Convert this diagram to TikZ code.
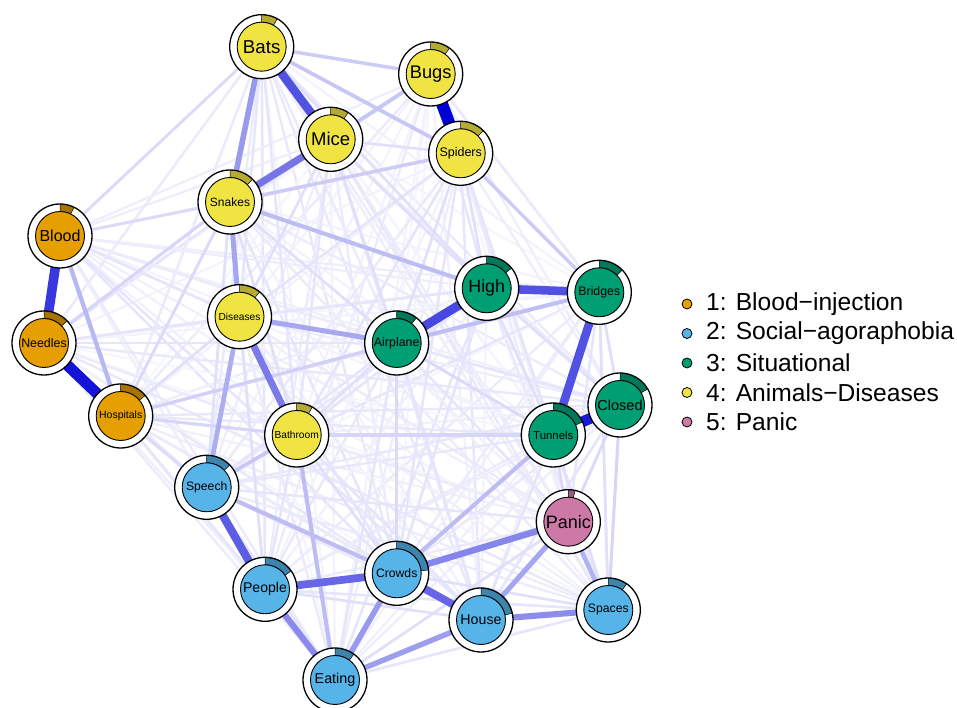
\documentclass[tikz,border=0pt]{standalone}
\usepackage{fontspec}
\setmainfont{Liberation Sans}
\usetikzlibrary{backgrounds}
\definecolor{eb}{HTML}{0000D5}
\definecolor{cOr}{HTML}{E69F00}\definecolor{pOr}{HTML}{A87400}
\definecolor{cBl}{HTML}{56B4E9}\definecolor{pBl}{HTML}{3D85AD}
\definecolor{cGr}{HTML}{009E73}\definecolor{pGr}{HTML}{00785A}
\definecolor{cYe}{HTML}{F0E442}\definecolor{pYe}{HTML}{B5AB33}
\definecolor{cPk}{HTML}{CC79A7}\definecolor{pPk}{HTML}{9B5B80}
\tikzset{
  outerc/.style={circle,minimum size=64pt,inner sep=0pt,draw=black,line width=1.3pt,fill=white},
  innerc/.style={circle,minimum size=49pt,inner sep=0pt,draw=black,line width=0.9pt},
  ed/.style={line width={1.4+0.105*#1}, draw=eb!#1!white},
  legdot/.style={circle,minimum size=10pt,inner sep=0pt,draw=black,line width=0.8pt},
  legtxt/.style={anchor=west,inner sep=0pt,font=\fontsize{24.6}{26}\selectfont}
}
\newcommand\qn[7]{%
  \node[outerc] (#1) at (#2) {};
  \begin{scope}[shift={(#2)}]
    \fill[#4,draw=black,line width=0.5pt] (90:24.5) -- (90:31.6) arc[start angle=90,end angle={90-#5},radius=31.6] -- ({90-#5}:24.5) arc[start angle={90-#5},end angle=90,radius=24.5] -- cycle;
  \end{scope}
  \node[innerc,fill=#3,font={\fontsize{#7}{#7}\selectfont}] (#1t) at (#2) {#6};
}
\begin{document}
\begin{tikzpicture}[x=1pt,y=1pt]
\useasboundingbox (0,0) rectangle (957,708);
% nodes
\qn{Bt}{261.7,661.3}{cYe}{pYe}{29}{Bats}{18.7}
\qn{Bg}{430.7,634}{cYe}{pYe}{36}{Bugs}{18.3}
\qn{Mi}{330.7,568.7}{cYe}{pYe}{33}{Mice}{18.5}
\qn{Sp}{460.7,554.7}{cYe}{pYe}{45}{Spiders}{12.5}
\qn{Sn}{230,506}{cYe}{pYe}{45}{Snakes}{12}
\qn{Bl}{60,472}{cOr}{pOr}{26}{Blood}{16}
\qn{Hi}{486.7,419.7}{cGr}{pGr}{51}{High}{17.8}
\qn{Br}{599.3,415.7}{cGr}{pGr}{46}{Bridges}{12.3}
\qn{Di}{239.5,391.3}{cYe}{pYe}{39}{Diseases}{10.2}
\qn{Ai}{396.7,365}{cGr}{pGr}{38}{Airplane}{12.4}
\qn{Ne}{44,365}{cOr}{pOr}{46}{Needles}{12.4}
\qn{Ho}{120.7,292}{cOr}{pOr}{50}{Hospitals}{10.5}
\qn{Ba}{296.7,273}{cYe}{pYe}{29}{Bathroom}{10.2}
\qn{Tu}{553.3,273}{cGr}{pGr}{66}{Tunnels}{11.4}
\qn{Cl}{620,303}{cGr}{pGr}{60}{Closed}{14.5}
\qn{Se}{206.7,220.7}{cBl}{pBl}{46}{Speech}{12.2}
\qn{Pa}{568.3,186.3}{cPk}{pPk}{12}{Panic}{18}
\qn{Cr}{396.7,134.7}{cBl}{pBl}{84}{Crowds}{12.2}
\qn{Pe}{265,118.7}{cBl}{pBl}{55}{People}{14.1}
\qn{Hs}{481,88}{cBl}{pBl}{78}{House}{14.2}
\qn{Sa}{608.3,98}{cBl}{pBl}{35}{Spaces}{12.2}
\qn{Ea}{335,28}{cBl}{pBl}{36}{Eating}{14.3}
% edges
\begin{pgfonlayer}{background}
\fill[white] (0,0) rectangle (957,708);
\pgfmathsetseed{11}
\foreach \a [count=\i] in {Bt,Bg,Mi,Sp,Sn,Bl,Hi,Br,Di,Ai,Ne,Ho,Ba,Tu,Cl,Se,Pa,Cr,Pe,Hs,Sa,Ea}{
  \foreach \b [count=\j] in {Bt,Bg,Mi,Sp,Sn,Bl,Hi,Br,Di,Ai,Ne,Ho,Ba,Tu,Cl,Se,Pa,Cr,Pe,Hs,Sa,Ea}{
    \ifnum\j>\i
      \pgfmathtruncatemacro\w{4+7*rnd}
      \draw[ed=\w] (\a.center) -- (\b.center);
    \fi
  }
}
\foreach \a/\b/\w in {
 Ho/Ea/6,
 Bt/Ai/8, Bt/Se/8, Bt/Ne/8, Bt/Ho/8, Bg/Br/8, Br/Cr/8, Cl/Cr/8, Ai/Bl/8, Ba/Pa/8, Di/Ea/8, Se/Hs/8, Ho/Cr/8, Ne/Ba/8, Ne/Se/8, Pe/Pa/8, Sp/Se/8,
 Sp/Di/10, Sp/Tu/10, Sp/Ba/10, Sp/Cr/10, Bt/Di/10, Bt/Ba/10, Mi/Ba/10, Bg/Hi/10, Bg/Sn/10, Hi/Cr/10, Hi/Ba/10, Hi/Di/10, Br/Pa/10, Tu/Hs/10, Cl/Hs/10, Cl/Ai/10, Ai/Ea/10, Ai/Hs/10, Ai/Pa/10, Ai/Se/10, Ai/Ne/10, Ba/Pe/10, Ba/Hs/10, Di/Ne/10, Di/Bl/10, Di/Cr/10, Se/Ea/10, Ho/Pe/10, Pe/Sa/10, Ea/Sa/10,
 Sp/Ai/12, Sp/Hi/12, Bt/Hi/12, Mi/Hi/12, Mi/Ai/12, Mi/Di/12, Mi/Sp/12, Hi/Tu/12, Hi/Cl/12, Br/Cl/12, Br/Sa/12, Tu/Sa/12, Ai/Ba/12, Ba/Cr/12, Di/Ho/12, Di/Pe/12, Sn/Ai/12, Sn/Ba/12, Sn/Se/12, Cr/Sa/12, Ea/Pa/12, Pe/Hs/12,
 Ai/Tu/14, Bl/Bt/14, Bl/Sn/14, Cl/Pa/14, Ho/Se/14, Ai/Cr/14, Tu/Pa/14, Ho/Sn/14,
 Ho/Ba/16, Ba/Tu/16, Sn/Ne/16, Cl/Sa/16,
 Ho/Ai/18,
 Bt/Bg/20, Sn/Sp/20, Sp/Br/20,
 Se/Ba/22, Bt/Sp/22, Mi/Bg/22,
 Ai/Br/25,
 Tu/Cr/26, Se/Cr/26, Ba/Ea/26, Sn/Hi/26,
 Bl/Ho/28, Pa/Sa/30, Se/Di/32, Di/Ai/34, Pa/Hs/35, Sn/Di/35, Ea/Hs/38,
 Bt/Sn/40, Cr/Ea/40, Hs/Sa/45, Pe/Ea/46, Cr/Pa/48, Di/Ba/52, Mi/Sn/54,
 Pe/Cr/60, Cr/Hs/60, Se/Pe/64, Bt/Mi/68, Hi/Br/68, Br/Tu/68, Hi/Ai/72,
 Bl/Ne/78, Tu/Cl/90, Ne/Ho/92, Bg/Sp/100}
 \draw[ed=\w] (\a.center) -- (\b.center);
\end{pgfonlayer}
% legend
\node[legdot,fill=cOr] (l1) at (687,404) {};
\node[legtxt] (t1) at (706,404) {1: Blood−injection};
\node[legdot,fill=cBl] (l2) at (687,374.5) {};
\node[legtxt] (t2) at (706,374.5) {2: Social−agoraphobia};
\node[legdot,fill=cGr] (l3) at (687,345) {};
\node[legtxt] (t3) at (706,345) {3: Situational};
\node[legdot,fill=cYe] (l4) at (687,315.5) {};
\node[legtxt] (t4) at (706,315.5) {4: Animals−Diseases};
\node[legdot,fill=cPk] (l5) at (687,286) {};
\node[legtxt] (t5) at (706,286) {5: Panic};
\end{tikzpicture}
\end{document}
